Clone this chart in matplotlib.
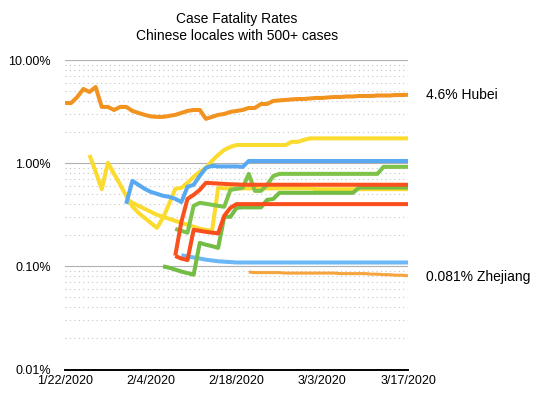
import numpy as np
import matplotlib
matplotlib.use("Agg")
import matplotlib.pyplot as plt

plt.rcParams['font.family'] = ['Liberation Sans', 'DejaVu Sans']

# x axis is one point per report, ticks every 14 points
tick_pos = [0, 14, 28, 42, 56]
tick_labels = ['1/22/2020', '2/4/2020', '2/18/2020', '3/3/2020', '3/17/2020']

# case fatality rate, percent
hubei = [3.83, 3.83, 4.38, 5.24, 4.90, 5.48, 3.51, 3.51, 3.28, 3.51,
         3.51, 3.21, 3.07, 2.94, 2.84, 2.81, 2.81, 2.87, 2.94, 3.07,
         3.21, 3.28, 3.28, 2.69, 2.81, 2.94, 3.00, 3.14, 3.21, 3.28,
         3.43, 3.43, 3.75, 3.75, 4.01, 4.06, 4.10, 4.15, 4.19, 4.19,
         4.24, 4.29, 4.29, 4.34, 4.38, 4.38, 4.43, 4.43, 4.48, 4.48,
         4.48, 4.53, 4.53, 4.53, 4.58, 4.58, 4.60]

zhejiang_start = 30
zhejiang = [0.088, 0.087, 0.087, 0.087, 0.087, 0.087, 0.086, 0.086, 0.086, 0.086,
            0.086, 0.086, 0.086, 0.086, 0.086, 0.085, 0.085, 0.085, 0.085, 0.085,
            0.084, 0.084, 0.083, 0.083, 0.082, 0.082, 0.081]

yellow_a_start = 4
yellow_a = [1.20, 0.83, 0.56, 1.01, 0.79, 0.62, 0.48, 0.38, 0.33, 0.295,
            0.264, 0.236, 0.295, 0.404, 0.564, 0.577, 0.645, 0.737, 0.824, 0.901,
            1.053, 1.203, 1.345, 1.438] + [1.50] * 9 + [1.61, 1.61, 1.68] + [1.74] * 17

yellow_b_start = 10
yellow_b = [0.451, 0.413, 0.386, 0.361, 0.338, 0.316, 0.302, 0.289, 0.276, 0.264,
            0.253, 0.242, 0.231, 0.226, 0.221, 0.577] + [0.57] * 15 + [0.56] * 16

blue_a_start = 10
blue_a = [0.404, 0.674, 0.617, 0.564, 0.527, 0.505, 0.483, 0.472, 0.451, 0.42,
          0.59, 0.617, 0.753, 0.901, 0.942, 0.93, 0.93, 0.93, 0.93, 0.92] + [1.05] * 27

blue_b_start = 19
blue_b = [0.128, 0.125, 0.122, 0.119, 0.116, 0.114, 0.112, 0.111, 0.110] + [0.109] * 29

red_a_start = 18
red_a = [0.127, 0.270, 0.451, 0.493, 0.551, 0.645, 0.640, 0.635, 0.630, 0.625,
         0.622] + [0.618] * 28

red_b_start = 18
red_b = [0.126, 0.119, 0.115, 0.226, 0.221, 0.216, 0.212, 0.209, 0.309, 0.369] + [0.401] * 29

green_a_start = 18
green_a = [0.231, 0.221, 0.212, 0.386, 0.413, 0.404, 0.395, 0.386, 0.378, 0.551,
           0.564, 0.577, 0.788, 0.539, 0.539, 0.617, 0.75] + [0.788] * 17 + [0.921] * 5

green_b_start = 16
green_b = [0.100, 0.097, 0.093, 0.089, 0.086, 0.083, 0.169, 0.162, 0.157, 0.151,
           0.302, 0.302, 0.369, 0.373, 0.373, 0.373, 0.373, 0.441, 0.45] + [0.516] * 13 + [0.58] * 9

end_labels = ['4.6% Hubei', '0.081% Zhejiang']

fig = plt.figure(figsize=(5.49, 3.98), dpi=100)
ax = fig.add_axes([0.1184, 0.0716, 0.6248, 0.7776])

def draw(start, vals, color, lw=2.9):
    x = np.arange(start, start + len(vals))
    ax.plot(x, vals, color=color, lw=lw, solid_joinstyle='round', solid_capstyle='butt')

draw(yellow_a_start, yellow_a, '#fbdb2e')
draw(yellow_b_start, yellow_b, '#fbdb2e')
draw(blue_b_start, blue_b, '#6cb8f6')
draw(green_b_start, green_b, '#74bd45')
draw(red_b_start, red_b, '#f94e1c')
draw(green_a_start, green_a, '#7dc34a')
draw(red_a_start, red_a, '#f9521f')
draw(blue_a_start, blue_a, '#58a9f1')
draw(zhejiang_start, zhejiang, '#f6a43c', lw=2.2)
draw(0, hubei, '#f2921f')

ax.set_yscale('log')
ax.set_ylim(0.01, 10)
ax.set_xlim(0, 56)
ax.set_yticks([0.01, 0.1, 1, 10])
ax.set_yticklabels(['0.01%', '0.10%', '1.00%', '10.00%'])
ax.set_xticks(tick_pos)
ax.set_xticklabels(tick_labels)
ax.tick_params(axis='both', which='both', length=0, labelsize=9)
ax.tick_params(axis='y', pad=10)
ax.tick_params(axis='x', pad=4)

ax.grid(which='major', axis='y', color='#b0b0b0', lw=0.8)
ax.grid(which='minor', axis='y', color='#c4c4c4', lw=0.8, linestyle=(0, (1, 3)))
ax.set_axisbelow(True)
for s in ['left', 'right', 'top']:
    ax.spines[s].set_visible(False)
ax.spines['bottom'].set_color('black')
ax.spines['bottom'].set_linewidth(1.4)

trans = ax.get_yaxis_transform()
ax.text(1.052, hubei[-1], end_labels[0], transform=trans, fontsize=10, va='center', ha='left')
ax.text(1.052, 0.0784, end_labels[1], transform=trans, fontsize=10, va='center', ha='left')

fig.text(0.431, 0.931, 'Case Fatality Rates\nChinese locales with 500+ cases',
         ha='center', va='center', fontsize=10, linespacing=1.3)

fig.savefig('out.png', dpi=100)
